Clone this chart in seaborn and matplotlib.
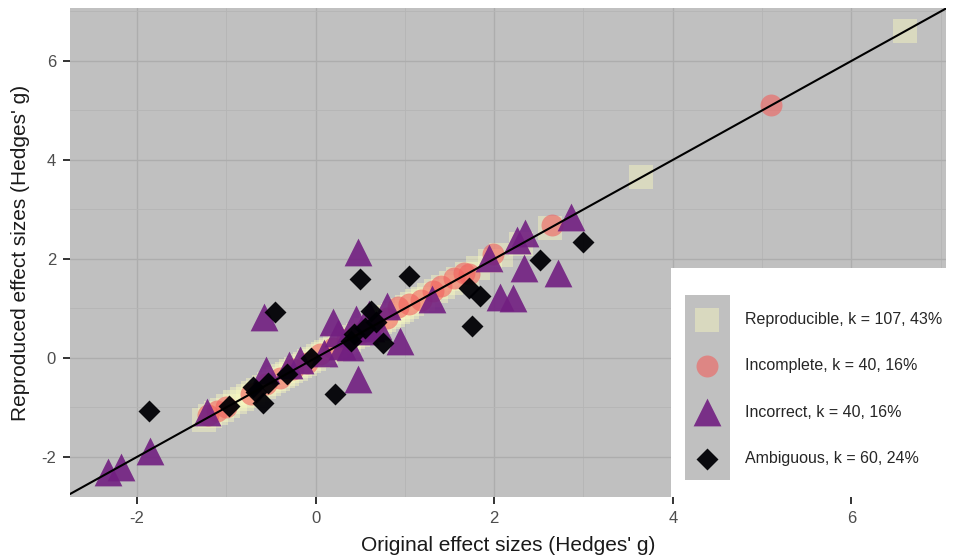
import numpy as np
import pandas as pd
import matplotlib
matplotlib.use("Agg")
import matplotlib.pyplot as plt
import seaborn as sns
from matplotlib.patches import Rectangle
from matplotlib.ticker import MultipleLocator

# ---------------- data ----------------
repro_x = [-1.25, -1.18, -1.12, -1.05, -0.98, -0.9, -0.82, -0.76, -0.7, -0.64, -0.58, -0.52,
           -0.47, -0.42, -0.37, -0.32, -0.27, -0.22, -0.17, -0.12, -0.07, -0.02, 0.03, 0.08,
           0.12, 0.17, 0.22, 0.27, 0.32, 0.37, 0.42, 0.47, 0.52, 0.57, 0.62, 0.67, 0.72, 0.77,
           0.82, 0.87, 0.92, 0.97, 1.02, 1.08, 1.14, 1.2, 1.27, 1.35, 1.43, 1.52, 1.6, 1.7,
           1.82, 1.95, 2.08, 2.3, 2.62, 3.65, 6.6]
repro_y = [-1.25, -1.18, -1.12, -1.05, -0.98, -0.9, -0.82, -0.76, -0.7, -0.64, -0.58, -0.52,
           -0.47, -0.42, -0.37, -0.32, -0.27, -0.22, -0.17, -0.12, -0.07, -0.02, 0.03, 0.08,
           0.12, 0.17, 0.22, 0.27, 0.32, 0.37, 0.42, 0.47, 0.52, 0.57, 0.62, 0.67, 0.72, 0.77,
           0.82, 0.87, 0.92, 0.97, 1.02, 1.08, 1.14, 1.2, 1.27, 1.35, 1.43, 1.52, 1.6, 1.7,
           1.82, 1.95, 2.08, 2.3, 2.62, 3.65, 6.6]

incomp_x = [-1.2, -1.1, -1.0, -0.72, -0.55, -0.4, -0.25, -0.1, 0.05, 0.2, 0.35, 0.5, 0.65,
            0.8, 0.92, 1.05, 1.18, 1.32, 1.4, 1.55, 1.66, 1.72, 1.99, 2.65, 5.1]
incomp_y = [-1.15, -1.08, -1.0, -0.72, -0.52, -0.4, -0.22, -0.1, 0.08, 0.2, 0.38, 0.5, 0.68,
            0.8, 1.02, 1.08, 1.17, 1.35, 1.45, 1.62, 1.72, 1.7, 2.1, 2.68, 5.12]

incor_x = [-2.32, -2.18, -1.85, -1.22, -0.58, -0.56, -0.3, -0.17, 0.1, 0.2, 0.25, 0.3, 0.39,
           0.45, 0.48, 0.47, 0.6, 0.7, 0.8, 0.95, 1.3, 1.94, 2.07, 2.21, 2.26, 2.35, 2.33,
           2.71, 2.86, 0.55, 0.62]
incor_y = [-2.3, -2.2, -1.88, -1.1, 0.83, -0.25, -0.15, -0.04, 0.1, 0.72, 0.5, 0.25, 0.22,
           0.78, 2.15, -0.42, 0.88, 0.65, 1.05, 0.35, 1.2, 2.02, 1.23, 1.22, 2.38, 2.52, 1.82,
           1.72, 2.85, 0.55, 0.6]

ambig_x = [-1.87, -0.97, -0.67, -0.59, -0.53, -0.45, -0.32, -0.05, 0.22, 0.43, 0.5, 0.62,
           0.76, 1.05, 1.72, 1.84, 1.75, 2.51, 2.99, 0.4, 0.55, -0.7, 0.68]
ambig_y = [-1.07, -0.98, -0.68, -0.92, -0.5, 0.92, -0.32, 0.0, -0.72, 0.48, 1.6, 0.95,
           0.3, 1.65, 1.42, 1.25, 0.65, 1.98, 2.35, 0.35, 0.6, -0.58, 0.72]

labels = ["Reproducible, k = 107, 43%", "Incomplete, k = 40, 16%",
          "Incorrect, k = 40, 16%", "Ambiguous, k = 60, 24%"]
x_ticks = [-2, 0, 2, 4, 6]
y_ticks = [-2, 0, 2, 4, 6]

# ---------------- styling ----------------
sns.set_theme(style="ticks")
plt.rcParams["font.family"] = ["Liberation Sans", "DejaVu Sans"]
plt.rcParams["axes.unicode_minus"] = False

groups = [
    (repro_x, repro_y, labels[0], "#FCFDBF", "s", 290, 0.42),
    (incomp_x, incomp_y, labels[1], "#F1605D", "o", 250, 0.6),
    (incor_x, incor_y, labels[2], "#721F81", "^", 400, 0.9),
    (ambig_x, ambig_y, labels[3], "#000004", "D", 125, 0.95),
]

fig = plt.figure(figsize=(9.56, 5.58), dpi=100)
ax = fig.add_axes([70 / 956, 1 - 497 / 558, 876 / 956, 489 / 558])
ax.set_facecolor("#C0C0C0")

handles = []
for xs, ys, lab, col, mk, s, a in groups:
    df = pd.DataFrame({"x": xs, "y": ys})
    sns.scatterplot(data=df, x="x", y="y", ax=ax, color=col, marker=mk, s=s,
                    alpha=a, linewidth=0, label=lab, legend=False)
    handles.append(ax.collections[-1])

ax.axline((0, 0), slope=1, color="black", lw=1.5, zorder=5)

ax.set_xlim(-2.75, 7.06)
ax.set_ylim(-2.81, 7.07)
ax.set_xticks(x_ticks)
ax.set_yticks(y_ticks)
ax.set_xticklabels([str(t) for t in x_ticks])
ax.set_yticklabels([str(t) for t in y_ticks])
ax.xaxis.set_minor_locator(MultipleLocator(1))
ax.yaxis.set_minor_locator(MultipleLocator(1))
ax.grid(which="major", color="#ADADAD", lw=1.0)
ax.grid(which="minor", color="#B5B5B5", lw=0.6)
ax.set_axisbelow(True)
ax.tick_params(which="major", length=5, width=1.4, color="#333333",
               labelsize=12, labelcolor="#4D4D4D", pad=5)
ax.tick_params(which="minor", length=0)
for sp in ax.spines.values():
    sp.set_visible(False)

ax.set_xlabel("Original effect sizes (Hedges' g)", fontsize=15, color="#1A1A1A", labelpad=7)
ax.set_ylabel("Reproduced effect sizes (Hedges' g)", fontsize=15, color="#1A1A1A", labelpad=8)

# legend box
fig.patches.append(Rectangle((671 / 956, 1 - 497 / 558), 290 / 956, 229 / 558,
                             transform=fig.transFigure, facecolor="white",
                             edgecolor="none", zorder=2))
fig.patches.append(Rectangle((685 / 956, 1 - 480 / 558), 45 / 956, 185 / 558,
                             transform=fig.transFigure, facecolor="#C0C0C0",
                             edgecolor="none", zorder=3))
fig.legend(handles, labels, loc="center left", bbox_to_anchor=(691 / 956, 1 - 389 / 558),
           frameon=False, fontsize=11.5, handlelength=2.0, handletextpad=1.375,
           labelspacing=1.95, borderpad=0, borderaxespad=0, scatterpoints=1)

fig.savefig("out.png", dpi=100)
